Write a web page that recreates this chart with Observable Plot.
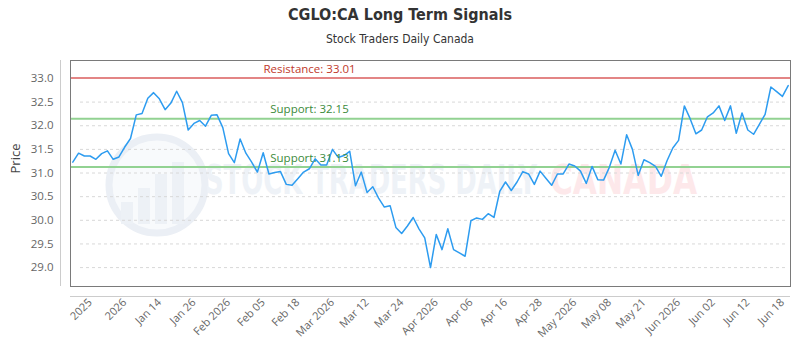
<!DOCTYPE html>
<html>
<head>
<meta charset="utf-8">
<script src="https://cdn.jsdelivr.net/npm/d3@7"></script>
<script src="https://cdn.jsdelivr.net/npm/@observablehq/plot@0.6"></script>
<style>
  body { margin: 0; background: #fff; width: 800px; }
  #head { position: relative; height: 52px; }
  #title { position: absolute; left: 0; right: 0; top: 5px; height: 30px; line-height: 30px;
           text-align: center; color: #333;
           font: bold 16px "DejaVu Sans Condensed", "DejaVu Sans", sans-serif; }
  #subtitle { position: absolute; left: 0; right: 0; top: 32px; height: 22px; line-height: 22px;
              text-align: center; color: #333;
              font: 12px "DejaVu Sans Condensed", "DejaVu Sans", sans-serif; }
  #chart svg { display: block; }
</style>
</head>
<body>
<div id="head">
  <div id="title">CGLO:CA Long Term Signals</div>
  <div id="subtitle">Stock Traders Daily Canada</div>
</div>
<div id="chart"></div>
<script>
// Closing prices, one per trading session
const prices = [
  31.23, 31.42, 31.36, 31.36, 31.29, 31.41, 31.47, 31.29, 31.34, 31.55,
  31.73, 32.23, 32.26, 32.58, 32.70, 32.57, 32.34, 32.48, 32.73, 32.49,
  31.91, 32.05, 32.11, 31.99, 32.22, 32.23, 31.96, 31.41, 31.22, 31.72,
  31.42, 31.23, 31.02, 31.43, 30.98, 31.01, 31.03, 30.76, 30.74, 30.88,
  31.02, 31.09, 31.30, 31.17, 31.17, 31.50, 31.33, 31.37, 31.46, 30.73,
  31.02, 30.59, 30.71, 30.47, 30.28, 30.31, 29.85, 29.72, 29.88, 30.06,
  29.82, 29.63, 29.00, 29.70, 29.38, 29.82, 29.38, 29.31, 29.24, 29.99,
  30.05, 30.02, 30.14, 30.06, 30.61, 30.81, 30.63, 30.81, 31.03, 30.98,
  30.76, 31.04, 30.89, 30.74, 30.98, 30.98, 31.19, 31.15, 31.04, 30.78,
  31.14, 30.86, 30.85, 31.12, 31.48, 31.19, 31.81, 31.50, 30.95, 31.28,
  31.22, 31.14, 30.93, 31.26, 31.53, 31.69, 32.42, 32.15, 31.83, 31.91,
  32.19, 32.27, 32.42, 32.11, 32.42, 31.84, 32.27, 31.91, 31.82, 32.03,
  32.24, 32.82, 32.72, 32.62, 32.85
];

// Category axis: session index of each labelled tick and its label
const tickIndex = [3, 9, 15, 21, 27, 33, 39, 45, 51, 57, 63, 69, 75, 81, 87, 93, 99, 105, 111, 117, 123];
const tickLabels = [
  "2025", "2026", "Jan 14", "Jan 26", "Feb 2026", "Feb 05", "Feb 18",
  "Mar 2026", "Mar 12", "Mar 24", "Apr 2026", "Apr 06", "Apr 16", "Apr 28",
  "May 2026", "May 08", "May 21", "Jun 2026", "Jun 02", "Jun 12", "Jun 18"
];

// Price axis ticks
const yTicks = [29.0, 29.5, 30.0, 30.5, 31.0, 31.5, 32.0, 32.5, 33.0];

// Signal levels
const levelNames = ["Resistance", "Support", "Support"];
const levelValues = [33.01, 32.15, 31.13];

const xDomain = [-0.4, prices.length - 0.6];
const yDomain = [28.6, 33.38];

const series = prices.map((p, i) => ({ i, price: p }));
const levels = levelValues.map((v, k) => ({
  value: v,
  kind: levelNames[k],
  text: `${levelNames[k]}: ${v.toFixed(2)}`
}));
const labelByIndex = new Map(tickIndex.map((t, k) => [t, tickLabels[k]]));

const lineColor = d => d.kind === "Resistance" ? "#e38585" : "#92d292";
const textColor = d => d.kind === "Resistance" ? "#c0392b" : "#3b8a3b";

// Faint brand watermark behind the data
function watermark() {
  const g = d3.create("svg:g").attr("pointer-events", "none").attr("text-anchor", "start");
  g.append("circle")
    .attr("cx", 157).attr("cy", 133).attr("r", 48)
    .attr("fill", "#f8fafc").attr("stroke", "#ebeff5").attr("stroke-width", 7);
  const bars = [[121, 150], [138, 136], [155, 122], [172, 110]];
  for (const [bx, top] of bars) {
    g.append("rect").attr("x", bx).attr("y", top).attr("width", 12)
      .attr("height", 172 - top).attr("fill", "#edf1f6");
  }
  g.append("text")
    .attr("x", 205).attr("y", 142)
    .attr("font-family", "'DejaVu Sans Condensed', 'DejaVu Sans', sans-serif")
    .attr("font-weight", "bold").attr("font-size", 40)
    .attr("textLength", 332).attr("lengthAdjust", "spacingAndGlyphs")
    .attr("fill", "#eef2f7")
    .text("STOCK TRADERS DAILY");
  g.append("text")
    .attr("x", 550).attr("y", 142)
    .attr("font-family", "'DejaVu Sans Condensed', 'DejaVu Sans', sans-serif")
    .attr("font-weight", "bold").attr("font-size", 40)
    .attr("textLength", 147).attr("lengthAdjust", "spacingAndGlyphs")
    .attr("fill", "#fde8ea")
    .text("CANADA");
  return g.node();
}

const chart = Plot.plot({
  width: 800,
  height: 298,
  marginLeft: 70,
  marginRight: 10,
  marginTop: 8,
  marginBottom: 64,
  style: { fontFamily: "'Open Sans', sans-serif", background: "#fff" },
  x: { type: "linear", domain: xDomain },
  y: { domain: yDomain },
  marks: [
    watermark,
    Plot.gridY(yTicks, { stroke: "#d8d8d8", strokeOpacity: 1, strokeDasharray: "3,3", insetLeft: 10, insetRight: 5 }),
    Plot.ruleY(levels, { y: "value", stroke: lineColor, strokeWidth: 2 }),
    Plot.line(series, { x: "i", y: "price", stroke: "#2d9cf0", strokeWidth: 1.5 }),
    Plot.text(levels, {
      y: "value", text: "text", frameAnchor: "left", dx: 239, dy: -9,
      textAnchor: "middle", fill: textColor, fontSize: 11.5
    }),
    Plot.frame({ stroke: "#7a7a7a" }),
    Plot.ruleX([xDomain[0]], { dx: -10, stroke: "#cccccc" }),
    Plot.ruleY([yDomain[0]], { dy: 10, stroke: "#cccccc" }),
    Plot.axisY(yTicks, {
      tickSize: 0, tickPadding: 17, tickFormat: d3.format(".1f"),
      fontSize: 11.5, color: "#666", label: null
    }),
    Plot.axisX(tickIndex, {
      tickSize: 0, tickPadding: 14, tickRotate: -45,
      tickFormat: d => labelByIndex.get(d), fontSize: 11, color: "#666", label: null
    }),
    Plot.text(["Price"], {
      frameAnchor: "left", dx: -55, rotate: -90, fontSize: 13, fill: "#444"
    })
  ]
});

document.getElementById("chart").append(chart);
</script>
</body>
</html>
